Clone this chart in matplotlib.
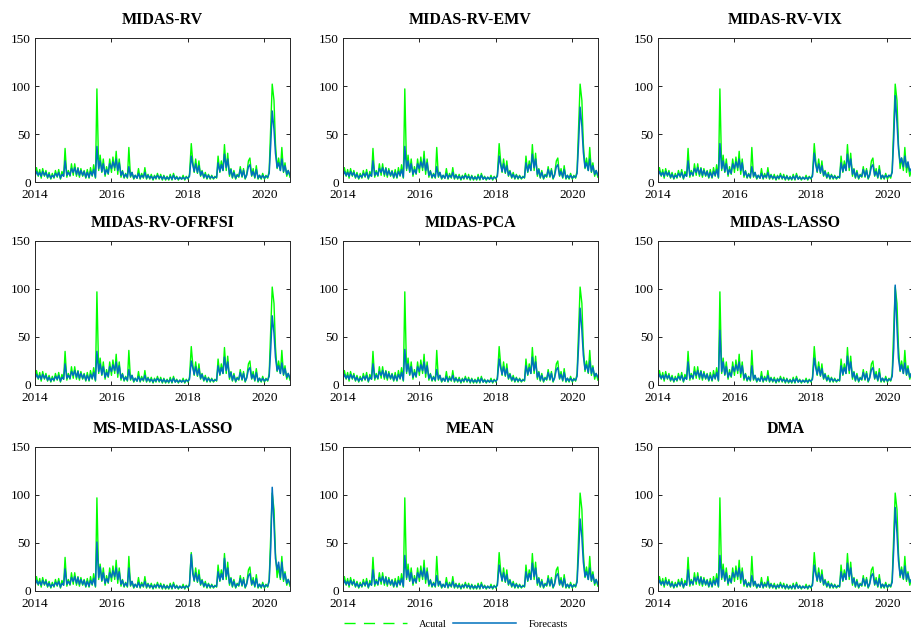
import pandas as pd
import matplotlib.pyplot as plt
import matplotlib.dates as mdates
from matplotlib.lines import Line2D

plt.rcParams['font.family'] = ['Liberation Serif', 'DejaVu Serif']

# semi-monthly sampling, Jan 2014 .. Sep 2020
dates = pd.date_range("2014-01-01", "2020-09-01", freq="SMS")

actual = [
    5, 15, 6, 13, 4, 14, 6, 12, 4, 10, 3, 9, 4, 12, 5, 13, 3, 11, 6, 35, 5, 12, 6, 19,
    7, 19, 6, 15, 5, 14, 6, 12, 4, 13, 4, 15, 6, 18, 4, 97, 12, 28, 10, 24, 6, 16, 8, 24,
    10, 26, 12, 32, 8, 24, 5, 12, 4, 9, 4, 36, 5, 10, 3, 7, 4, 14, 3, 9, 4, 15, 3, 8,
    3, 8, 2, 7, 3, 9, 3, 8, 2, 7, 2, 6, 2, 8, 2, 9, 3, 6, 2, 5, 3, 7, 2, 6,
    3, 8, 40, 22, 10, 24, 9, 22, 6, 12, 4, 10, 3, 8, 3, 7, 3, 6, 4, 27, 10, 22, 12, 39,
    12, 30, 6, 14, 4, 12, 3, 8, 5, 16, 5, 14, 3, 8, 22, 25, 6, 14, 4, 17, 3, 7, 3, 9,
    3, 7, 4, 12, 60, 102, 85, 40, 14, 25, 12, 36, 10, 20, 6, 12, 5,
]

f_midas_rv = [
    6, 11, 7, 10, 6, 11, 7, 10, 5, 8, 4, 7, 5, 9, 6, 10, 4, 8, 6, 22, 7, 10, 7, 14,
    10, 15, 8, 14, 7, 12, 7, 11, 5, 10, 5, 11, 7, 13, 5, 37, 14, 22, 11, 19, 8, 13, 9, 19,
    14, 21, 15, 24, 12, 20, 7, 11, 5, 8, 5, 16, 6, 10, 4, 7, 4, 9, 4, 7, 5, 10, 4, 7,
    4, 6, 3, 6, 4, 7, 4, 6, 3, 6, 3, 5, 3, 6, 3, 7, 3, 5, 3, 5, 3, 5, 3, 5,
    4, 6, 27, 18, 11, 19, 10, 17, 7, 11, 5, 8, 4, 7, 4, 6, 4, 5, 5, 20, 11, 18, 12, 29,
    15, 24, 8, 13, 5, 10, 4, 7, 6, 13, 6, 12, 4, 7, 16, 18, 7, 11, 5, 13, 4, 7, 4, 7,
    4, 6, 5, 9, 40, 74, 55, 30, 15, 20, 12, 24, 11, 17, 8, 12, 7,
]
f_midas_rv_emv = [
    6, 11, 7, 10, 6, 11, 7, 10, 5, 8, 4, 7, 5, 9, 6, 10, 4, 8, 6, 22, 7, 10, 7, 14,
    10, 15, 8, 14, 7, 12, 7, 11, 5, 10, 5, 11, 7, 13, 5, 37, 14, 22, 11, 19, 8, 13, 9, 19,
    14, 21, 15, 24, 12, 20, 7, 11, 5, 8, 5, 16, 6, 10, 4, 7, 4, 9, 4, 7, 5, 10, 4, 7,
    4, 6, 3, 6, 4, 7, 4, 6, 3, 6, 3, 5, 3, 6, 3, 7, 3, 5, 3, 5, 3, 5, 3, 5,
    4, 6, 27, 18, 11, 19, 10, 17, 7, 11, 5, 8, 4, 7, 4, 6, 4, 5, 5, 20, 11, 18, 12, 29,
    15, 24, 8, 13, 5, 10, 4, 7, 6, 13, 6, 12, 4, 7, 16, 18, 7, 11, 5, 13, 4, 7, 4, 7,
    4, 6, 5, 9, 42, 78, 58, 31, 15, 20, 12, 24, 11, 17, 8, 12, 7,
]
f_midas_rv_vix = [
    6, 11, 7, 10, 6, 11, 7, 10, 5, 8, 4, 7, 5, 9, 6, 10, 4, 8, 6, 22, 7, 10, 7, 14,
    10, 15, 8, 14, 7, 12, 7, 11, 5, 10, 5, 11, 7, 13, 5, 40, 14, 22, 11, 19, 8, 13, 9, 19,
    14, 21, 15, 24, 12, 20, 7, 11, 5, 8, 5, 16, 6, 10, 4, 7, 4, 9, 4, 7, 5, 10, 4, 7,
    4, 6, 3, 6, 4, 7, 4, 6, 3, 6, 3, 5, 3, 6, 3, 7, 3, 5, 3, 5, 3, 5, 3, 5,
    4, 6, 30, 18, 11, 19, 10, 17, 7, 11, 5, 8, 4, 7, 4, 6, 4, 5, 5, 20, 11, 18, 12, 29,
    15, 24, 8, 13, 5, 10, 4, 7, 6, 13, 6, 12, 4, 7, 16, 18, 7, 11, 5, 13, 4, 7, 4, 7,
    5, 7, 6, 10, 45, 90, 62, 35, 20, 25, 16, 27, 15, 21, 11, 14, 10,
]
f_midas_rv_ofrfsi = [
    6, 11, 7, 10, 6, 11, 7, 10, 5, 8, 4, 7, 5, 9, 6, 10, 4, 8, 6, 22, 7, 10, 7, 14,
    10, 15, 8, 14, 7, 12, 7, 11, 5, 10, 5, 11, 7, 13, 5, 35, 14, 22, 11, 19, 8, 13, 9, 19,
    14, 21, 15, 24, 12, 20, 7, 11, 5, 8, 5, 16, 6, 10, 4, 7, 4, 9, 4, 7, 5, 10, 4, 7,
    4, 6, 3, 6, 4, 7, 4, 6, 3, 6, 3, 5, 3, 6, 3, 7, 3, 5, 3, 5, 3, 5, 3, 5,
    4, 6, 25, 18, 11, 19, 10, 17, 7, 11, 5, 8, 4, 7, 4, 6, 4, 5, 5, 20, 11, 18, 12, 29,
    15, 24, 8, 13, 5, 10, 4, 7, 6, 13, 6, 12, 4, 7, 16, 18, 7, 11, 5, 13, 4, 7, 4, 7,
    4, 6, 5, 9, 38, 72, 54, 29, 15, 20, 12, 23, 11, 17, 8, 12, 7,
]
f_midas_pca = [
    6, 11, 7, 10, 6, 11, 7, 10, 5, 8, 4, 7, 5, 9, 6, 10, 4, 8, 6, 22, 7, 10, 7, 14,
    10, 15, 8, 14, 7, 12, 7, 11, 5, 10, 5, 11, 7, 13, 5, 37, 14, 22, 11, 19, 8, 13, 9, 19,
    14, 21, 15, 24, 12, 20, 7, 11, 5, 8, 5, 16, 6, 10, 4, 7, 4, 9, 4, 7, 5, 10, 4, 7,
    4, 6, 3, 6, 4, 7, 4, 6, 3, 6, 3, 5, 3, 6, 3, 7, 3, 5, 3, 5, 3, 5, 3, 5,
    4, 6, 27, 18, 11, 19, 10, 17, 7, 11, 5, 8, 4, 7, 4, 6, 4, 5, 5, 20, 11, 18, 12, 29,
    15, 24, 8, 13, 5, 10, 4, 7, 6, 13, 6, 12, 4, 7, 16, 18, 7, 11, 5, 13, 4, 7, 4, 7,
    4, 6, 5, 9, 42, 80, 57, 31, 16, 21, 13, 25, 12, 18, 9, 12, 8,
]
f_midas_lasso = [
    6, 11, 7, 10, 6, 11, 7, 10, 5, 8, 4, 7, 5, 9, 6, 10, 4, 8, 6, 24, 7, 10, 7, 14,
    10, 15, 8, 14, 7, 12, 7, 11, 5, 10, 5, 11, 7, 13, 5, 57, 14, 24, 11, 19, 8, 13, 9, 19,
    14, 21, 15, 24, 12, 20, 7, 11, 5, 8, 5, 20, 6, 10, 4, 7, 4, 9, 4, 7, 5, 10, 4, 7,
    4, 6, 3, 6, 4, 7, 4, 6, 3, 6, 3, 5, 3, 6, 3, 7, 3, 5, 3, 5, 3, 5, 3, 5,
    4, 6, 28, 18, 11, 19, 10, 17, 7, 11, 5, 8, 4, 7, 4, 6, 4, 5, 5, 20, 11, 18, 12, 30,
    15, 24, 8, 13, 5, 10, 4, 7, 6, 13, 6, 12, 4, 7, 16, 18, 7, 11, 5, 13, 4, 7, 4, 7,
    4, 6, 5, 9, 38, 104, 60, 28, 15, 21, 12, 23, 11, 17, 8, 12, 7,
]
f_ms_midas_lasso = [
    6, 11, 7, 10, 6, 11, 7, 10, 5, 8, 4, 7, 5, 9, 6, 10, 4, 8, 6, 23, 7, 10, 7, 14,
    10, 15, 8, 14, 7, 12, 7, 11, 5, 10, 5, 11, 7, 13, 5, 51, 14, 25, 11, 19, 8, 13, 9, 19,
    14, 21, 15, 24, 12, 20, 7, 11, 5, 8, 5, 24, 6, 10, 4, 7, 4, 9, 4, 7, 5, 10, 4, 7,
    4, 6, 3, 6, 4, 7, 4, 6, 3, 6, 3, 5, 3, 6, 3, 7, 3, 5, 3, 5, 3, 5, 3, 5,
    4, 6, 38, 18, 11, 19, 10, 17, 7, 11, 5, 8, 4, 7, 4, 6, 4, 5, 5, 20, 11, 18, 12, 34,
    15, 24, 8, 13, 5, 10, 4, 7, 6, 13, 6, 12, 4, 7, 16, 18, 7, 11, 5, 13, 4, 7, 4, 7,
    4, 6, 5, 10, 45, 108, 70, 34, 22, 30, 14, 30, 12, 18, 8, 12, 7,
]
f_mean = [
    6, 11, 7, 10, 6, 11, 7, 10, 5, 8, 4, 7, 5, 9, 6, 10, 4, 8, 6, 22, 7, 10, 7, 14,
    10, 15, 8, 14, 7, 12, 7, 11, 5, 10, 5, 11, 7, 13, 5, 37, 14, 22, 11, 19, 8, 13, 9, 19,
    14, 21, 15, 24, 12, 20, 7, 11, 5, 8, 5, 16, 6, 10, 4, 7, 4, 9, 4, 7, 5, 10, 4, 7,
    4, 6, 3, 6, 4, 7, 4, 6, 3, 6, 3, 5, 3, 6, 3, 7, 3, 5, 3, 5, 3, 5, 3, 5,
    4, 6, 27, 18, 11, 19, 10, 17, 7, 11, 5, 8, 4, 7, 4, 6, 4, 5, 5, 20, 11, 18, 12, 29,
    15, 24, 8, 13, 5, 10, 4, 7, 6, 13, 6, 12, 4, 7, 16, 18, 7, 11, 5, 13, 4, 7, 4, 7,
    4, 6, 5, 9, 40, 75, 56, 30, 15, 20, 12, 24, 11, 17, 8, 12, 7,
]
f_dma = [
    6, 11, 7, 10, 6, 11, 7, 10, 5, 8, 4, 7, 5, 9, 6, 10, 4, 8, 6, 22, 7, 10, 7, 14,
    10, 15, 8, 14, 7, 12, 7, 11, 5, 10, 5, 11, 7, 13, 5, 37, 14, 22, 11, 19, 8, 13, 9, 19,
    14, 21, 15, 24, 12, 20, 7, 11, 5, 8, 5, 16, 6, 10, 4, 7, 4, 9, 4, 7, 5, 10, 4, 7,
    4, 6, 3, 6, 4, 7, 4, 6, 3, 6, 3, 5, 3, 6, 3, 7, 3, 5, 3, 5, 3, 5, 3, 5,
    4, 6, 27, 18, 11, 19, 10, 17, 7, 11, 5, 8, 4, 7, 4, 6, 4, 5, 5, 20, 11, 18, 12, 29,
    15, 24, 8, 13, 5, 10, 4, 7, 6, 13, 6, 12, 4, 7, 16, 18, 7, 11, 5, 13, 4, 7, 4, 7,
    4, 6, 5, 9, 44, 87, 60, 32, 16, 22, 13, 26, 12, 18, 9, 12, 8,
]

titles = ["MIDAS-RV", "MIDAS-RV-EMV", "MIDAS-RV-VIX",
          "MIDAS-RV-OFRFSI", "MIDAS-PCA", "MIDAS-LASSO",
          "MS-MIDAS-LASSO", "MEAN", "DMA"]
forecasts = [f_midas_rv, f_midas_rv_emv, f_midas_rv_vix,
             f_midas_rv_ofrfsi, f_midas_pca, f_midas_lasso,
             f_ms_midas_lasso, f_mean, f_dma]

green = "#00ff00"
blue = "#0072bd"

fig = plt.figure(figsize=(9.12, 6.38), dpi=100)

lefts = [0.0384, 0.376, 0.7215]
bottoms = [0.7147, 0.3966, 0.0737]
w, h = 0.2796, 0.2257

for k, (title, fc) in enumerate(zip(titles, forecasts)):
    r, c = divmod(k, 3)
    ax = fig.add_axes([lefts[c], bottoms[r], w, h])
    # daily-dense dashes read as a solid band, so draw the band solid
    ax.plot(dates, actual, color=green, lw=1.0)
    ax.plot(dates, fc, color=blue, lw=1.1)
    ax.set_ylim(0, 150)
    ax.set_yticks([0, 50, 100, 150])
    ax.set_xlim(pd.Timestamp("2014-01-01"), pd.Timestamp("2020-09-01"))
    ax.xaxis.set_major_locator(mdates.YearLocator(2))
    ax.xaxis.set_major_formatter(mdates.DateFormatter("%Y"))
    ax.tick_params(direction="in", length=3, width=0.6, labelsize=9.5,
                   top=True, right=True, pad=3)
    ax.tick_params(axis="x", pad=5)
    for s in ax.spines.values():
        s.set_linewidth(0.7)
        s.set_color("#262626")
    ax.set_title(title, fontsize=11.5, fontweight="bold", pad=10)

h_act = Line2D([], [], color=green, lw=1.0, ls=(0, (8, 6)))
h_fc = Line2D([], [], color=blue, lw=1.1)
fig.legend([h_act, h_fc], ["Acutal", "Forecasts"], loc="lower center",
           bbox_to_anchor=(0.5, 0.0), ncol=2, frameon=False, fontsize=7.5,
           handlelength=6, handletextpad=1.2, columnspacing=0.6)

fig.savefig("out.png", dpi=100)
